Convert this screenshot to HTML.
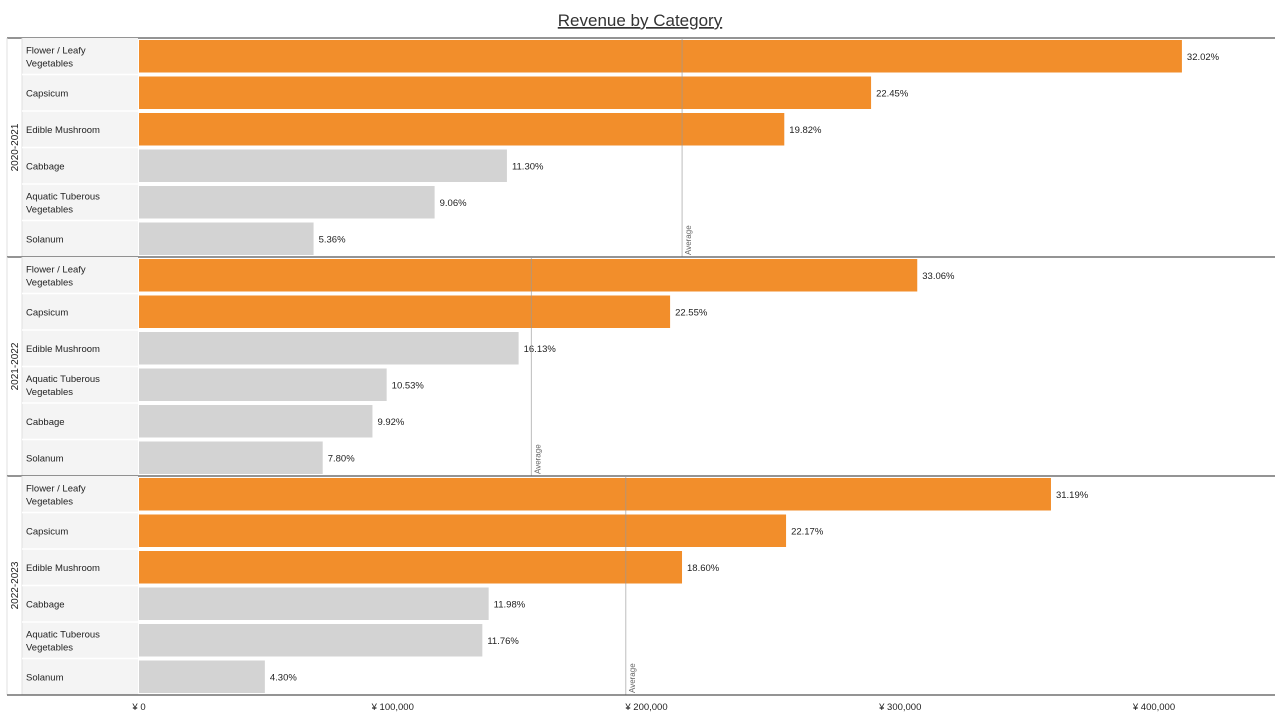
<!DOCTYPE html>
<html><head><meta charset="utf-8"><style>
body{margin:0;background:#fff;font-family:"Liberation Sans",sans-serif}
svg text{font-family:"Liberation Sans",sans-serif}
</style></head><body>
<svg id="c" width="1280" height="720" xmlns="http://www.w3.org/2000/svg">
<text x="640" y="26" text-anchor="middle" font-size="17" fill="#333" text-decoration="underline">Revenue by Category</text>
</svg>
<script>
const years = ["2020-2021","2021-2022","2022-2023"];
const cats1 = ["Flower / Leafy|Vegetables","Capsicum","Edible Mushroom","Cabbage","Aquatic Tuberous|Vegetables","Solanum"];
const cats2 = ["Flower / Leafy|Vegetables","Capsicum","Edible Mushroom","Aquatic Tuberous|Vegetables","Cabbage","Solanum"];
const cats3 = ["Flower / Leafy|Vegetables","Capsicum","Edible Mushroom","Cabbage","Aquatic Tuberous|Vegetables","Solanum"];
const vals1 = [411000,288500,254300,145000,116500,68800];
const vals2 = [306700,209300,149600,97600,92000,72400];
const vals3 = [359400,255000,214000,137800,135300,49600];
const pct1 = ["32.02%","22.45%","19.82%","11.30%","9.06%","5.36%"];
const pct2 = ["33.06%","22.55%","16.13%","10.53%","9.92%","7.80%"];
const pct3 = ["31.19%","22.17%","18.60%","11.98%","11.76%","4.30%"];
const highlight = [3,2,3];
const ticks = [0,100000,200000,300000,400000];
const tickLabels = ["¥ 0","¥ 100,000","¥ 200,000","¥ 300,000","¥ 400,000"];
const cats=[cats1,cats2,cats3], vals=[vals1,vals2,vals3], pcts=[pct1,pct2,pct3];
const svg=document.getElementById('c'), NS="http://www.w3.org/2000/svg";
const x0=139, px=(1154-139)/400000;
const X=v=>x0+v*px;
function mk(t,a,p){const e=document.createElementNS(NS,t);for(const k in a)e.setAttribute(k,a[k]);(p||svg).appendChild(e);return e;}
const top0=38, ph=219, rh=ph/6;
mk('line',{x1:7,x2:1275,y1:top0,y2:top0,stroke:'#555','stroke-width':1.2});
years.forEach((y,i)=>{
  const g=mk('g',{});
  
  
  const pt=top0+i*ph;
  mk('rect',{x:22,y:pt,width:116,height:ph,fill:'#f4f4f4'},g);
  mk('line',{x1:22,x2:22,y1:pt,y2:pt+ph,stroke:'#e0e0e0'},g);
  mk('line',{x1:7,x2:7,y1:pt,y2:pt+ph,stroke:'#e0e0e0'},g);
  const yl=mk('text',{x:0,y:0,'font-size':10,fill:'#222','text-anchor':'middle',transform:`translate(18,${pt+ph/2}) rotate(-90)`},g);
  yl.textContent=y;
  
  
  cats[i].forEach((c,j)=>{
    const ry=pt+j*rh;
    if(j>0) mk('line',{x1:22,x2:138,y1:ry,y2:ry,stroke:'#fff','stroke-width':1.5},g);
    const parts=c.split('|');
    const t=mk('text',{x:26,'font-size':9.5,fill:'#222'},g);
    
    
    parts.forEach((p,k)=>{const s=mk('tspan',{x:26,y:ry+rh/2+3.5+(parts.length>1?(k?6.5:-6.5):0)},t);s.textContent=p;});
    const b=mk('rect',{x:x0,y:ry+2,width:X(vals[i][j])-x0,height:rh-4,fill:j<highlight[i]?'#f28e2b':'#d3d3d3'},g);
    
    
    const l=mk('text',{x:X(vals[i][j])+5,y:ry+rh/2+3.5,'font-size':9.5,fill:'#222'},g);
    l.textContent=pcts[i][j];
    
    
  });
  const avg=vals[i].reduce((a,b)=>a+b,0)/6;
  const al=mk('line',{x1:X(avg),x2:X(avg),y1:pt,y2:pt+ph,stroke:'#999','stroke-width':0.8,opacity:0.8},g);
  
  
  const at=mk('text',{'font-size':8,fill:'#666',transform:`translate(${X(avg)+9},${pt+ph-2}) rotate(-90)`},g);
  at.textContent='Average';
  
  
  mk('line',{x1:7,x2:1275,y1:pt+ph,y2:pt+ph,stroke:'#555','stroke-width':1.2},g);
});
ticks.forEach((t,i)=>{
  const e=mk('text',{x:X(t),y:710,'font-size':9.5,fill:'#222','text-anchor':'middle'});
  e.textContent=tickLabels[i];
  
  
});
</script>
</body></html>
